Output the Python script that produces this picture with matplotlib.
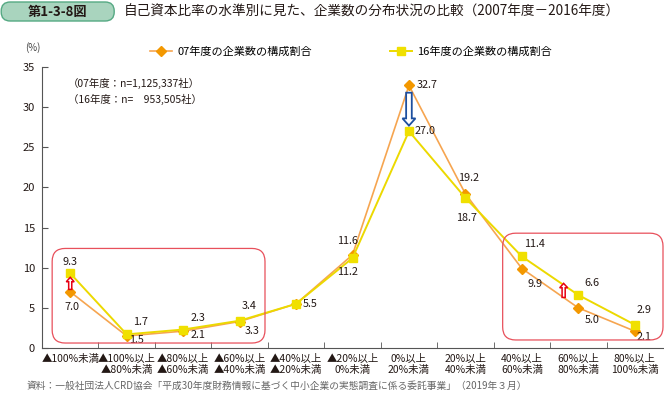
import numpy as np
import matplotlib.pyplot as plt
from matplotlib.patches import FancyBboxPatch, FancyArrow

plt.rcParams['font.family'] = ['Noto Sans CJK JP', 'DejaVu Sans']

# data
categories = [
    "▲100%未満",
    "▲100%以上\n▲80%未満",
    "▲80%以上\n▲60%未満",
    "▲60%以上\n▲40%未満",
    "▲40%以上\n▲20%未満",
    "▲20%以上\n0%未満",
    "0%以上\n20%未満",
    "20%以上\n40%未満",
    "40%以上\n60%未満",
    "60%以上\n80%未満",
    "80%以上\n100%未満",
]
share_07 = [7.0, 1.5, 2.1, 3.3, 5.5, 11.6, 32.7, 19.2, 9.9, 5.0, 2.1]
share_16 = [9.3, 1.7, 2.3, 3.4, 5.5, 11.2, 27.0, 18.7, 11.4, 6.6, 2.9]
label_07 = "07年度の企業数の構成割合"
label_16 = "16年度の企業数の構成割合"

# label offsets in pixels (dx, dy), None = no label
offs_07 = [(2, -15), (10, -4), (15, -4), (13, -9), (14, 0), (-5, 14),
           (18, 0), (3, 16), (13, -15), (14, -12), (9, -6)]
offs_16 = [(0, 11), (14, 12), (15, 12), (10, 15), None, (-5, -14),
           (16, 0), (1, -20), (13, 12), (14, 12), (9, 15)]

ORANGE_LINE = "#f6a550"
ORANGE = "#f39800"
YELLOW_LINE = "#ecd900"
YELLOW = "#f0e000"
BOX_RED = "#e8505b"

W, H = 664, 394
fig = plt.figure(figsize=(W / 100, H / 100), dpi=100)
ax = fig.add_axes([42 / W, (H - 348) / H, (663 - 42) / W, (348 - 67) / H])

x = np.arange(len(categories))
ax.plot(x, share_07, color=ORANGE_LINE, lw=1.2, marker="D", ms=5.5,
        mfc=ORANGE, mec=ORANGE, label=label_07, zorder=3)
ax.plot(x, share_16, color=YELLOW_LINE, lw=1.4, marker="s", ms=5.5,
        mfc=YELLOW, mec=YELLOW, label=label_16, zorder=4)

ax.set_xlim(-0.5, len(categories) - 0.5)
ax.set_ylim(0, 35)
ax.set_yticks(range(0, 36, 5))
ax.set_xticks(x)
ax.set_xticklabels(categories, fontsize=7.5, linespacing=1.15, color="#231815")
ax.set_xticks(np.arange(0.5, len(categories) - 0.5, 1), minor=True)
ax.tick_params(axis="x", which="major", length=0, pad=4)
ax.tick_params(axis="x", which="minor", direction="in", length=4, color="#555555")
ax.tick_params(axis="y", direction="in", length=4, labelsize=8, color="#555555",
               labelcolor="#231815", pad=5)
for s in ["top", "right"]:
    ax.spines[s].set_visible(False)
for s in ["left", "bottom"]:
    ax.spines[s].set_color("#555555")
    ax.spines[s].set_linewidth(0.8)

# value labels
for vals, offs in [(share_07, offs_07), (share_16, offs_16)]:
    for i, (v, o) in enumerate(zip(vals, offs)):
        if o is None:
            continue
        ax.annotate(f"{v:.1f}", (i, v), xytext=(o[0] * 0.72, o[1] * 0.72),
                    textcoords="offset points", ha="center", va="center",
                    fontsize=7.8, color="#231815", zorder=6)

# rounded highlight boxes (drawn in inches so corners stay round)
to_in = ax.transData + fig.dpi_scale_trans.inverted()


def rounded_box(x0, y0, x1, y1):
    (a, b), (c, d) = to_in.transform([(x0, y0), (x1, y1)])
    fig.patches.append(FancyBboxPatch(
        (a, b), c - a, d - b, boxstyle="round,pad=0,rounding_size=0.13",
        transform=fig.dpi_scale_trans, fill=False, ec=BOX_RED, lw=0.9, zorder=2))


rounded_box(-0.32, 0.62, 3.45, 12.4)
rounded_box(7.66, 1.0, 10.5, 14.3)

# change arrows
ax.add_patch(FancyArrow(0, 7.3, 0, 1.5, width=0.055, head_width=0.14, head_length=0.55,
                        length_includes_head=True, fc="white", ec="#e60012", lw=1.1, zorder=5))
ax.add_patch(FancyArrow(8.74, 6.3, 0, 1.75, width=0.055, head_width=0.14, head_length=0.55,
                        length_includes_head=True, fc="white", ec="#e60012", lw=1.1, zorder=5))
ax.add_patch(FancyArrow(6, 31.8, 0, -4.1, width=0.1, head_width=0.23, head_length=0.9,
                        length_includes_head=True, fc="white", ec="#1d4f9f", lw=1.3, zorder=5))

# legend
ax.legend(loc="center left", bbox_to_anchor=(150 / W, (H - 52) / H),
          bbox_transform=fig.transFigure, ncol=2, frameon=False, fontsize=8,
          handlelength=2.0, handletextpad=0.45, columnspacing=7.0, borderpad=0,
          borderaxespad=0)

# header
fig.patches.append(FancyBboxPatch(
    (0.012, (H - 21) / 100), 1.13, 0.19, boxstyle="round,pad=0,rounding_size=0.09",
    transform=fig.dpi_scale_trans, fc="#a9d4be", ec="#55a983", lw=1.0))
fig.text(58 / W, (H - 12) / H, "第1-3-8図", ha="center", va="center",
         fontsize=9.5, fontweight="bold", color="#231815")
fig.text(124 / W, (H - 12) / H,
         "自己資本比率の水準別に見た、企業数の分布状況の比較（2007年度－2016年度）",
         ha="left", va="center", fontsize=9.8, color="#231815")

fig.text(25 / W, (H - 48) / H, "(%)", ha="left", va="center", fontsize=7, color="#444444")
fig.text(68 / W, (H - 83) / H, "（07年度：n=1,125,337社）", ha="left", va="center",
         fontsize=7.5, color="#231815")
fig.text(68 / W, (H - 99) / H, "（16年度：n=　953,505社）", ha="left", va="center",
         fontsize=7.5, color="#231815")
fig.text(27 / W, (H - 386) / H,
         "資料：一般社団法人CRD協会「平成30年度財務情報に基づく中小企業の実態調査に係る委託事業」（2019年３月）",
         ha="left", va="center", fontsize=7, color="#666666")

fig.savefig("out.png", dpi=100)
